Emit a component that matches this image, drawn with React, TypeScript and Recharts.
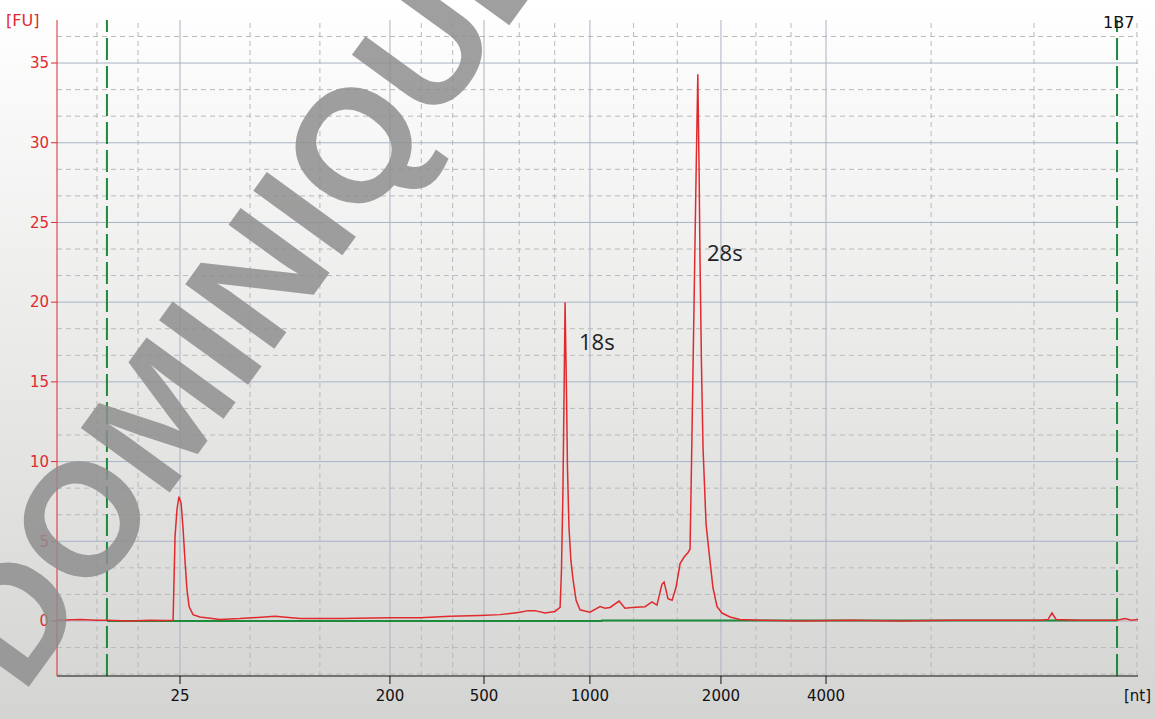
import { LineChart, Line, XAxis, YAxis, ReferenceLine } from 'recharts';

// migration time (s) and fluorescence (FU)
const traceTime = [
  19.0, 20.06, 20.85, 21.31, 22.38, 23.3, 23.99, 24.37, 24.46, 24.55, 24.64, 24.74, 24.83, 24.92,
  25.01, 25.11, 25.29, 25.61, 26.54, 27.46, 29.08, 30.24, 32.09, 34.4, 35.79, 37.18, 38.57, 39.49,
  40.42, 40.79, 41.11, 41.57, 42.03, 42.27, 42.33, 42.4, 42.45, 42.5, 42.57, 42.61, 42.68, 42.77,
  42.87, 43.01, 43.19, 43.65, 44.12, 44.35, 44.58, 45.0, 45.27, 45.6, 46.2, 46.52, 46.75, 46.98,
  47.08, 47.26, 47.45, 47.63, 47.82, 48.0, 48.19, 48.28, 48.35, 48.42, 48.49, 48.56, 48.64, 48.7,
  48.74, 48.81, 48.88, 49.02, 49.2, 49.34, 49.53, 49.76, 50.13, 50.59, 51.52, 53.37, 55.68, 57.99,
  60.3, 62.62, 64.47, 64.84, 65.02, 65.21, 66.32, 68.03, 68.4, 68.7, 69.0,
];
const traceFU = [
  0.05, 0.1, 0.05, 0.05, 0.0, 0.05, 0.03, 0.05, 5.3, 7.0, 7.8, 7.4, 5.8, 3.8,
  2.0, 0.9, 0.4, 0.25, 0.1, 0.15, 0.3, 0.15, 0.15, 0.2, 0.2, 0.3, 0.35, 0.4,
  0.55, 0.65, 0.65, 0.5, 0.6, 0.85, 3.0, 8.0, 13.9, 20.0, 13.9, 9.7, 5.9, 3.8,
  2.6, 1.3, 0.7, 0.55, 0.9, 0.8, 0.85, 1.25, 0.8, 0.85, 0.9, 1.2, 1.0, 2.3,
  2.45, 1.4, 1.3, 2.1, 3.6, 4.0, 4.3, 4.5, 10.0, 16.0, 22.0, 28.0, 34.3, 28.1,
  22.8, 16.0, 10.9, 6.1, 3.8, 2.1, 0.9, 0.5, 0.25, 0.1, 0.05, 0.0, 0.05, 0.0,
  0.05, 0.05, 0.05, 0.1, 0.5, 0.1, 0.05, 0.05, 0.15, 0.05, 0.1,
];

const baselineTime = [21.31, 44.19, 44.2, 68.03];
const baselineFU = [0, 0, 0.03, 0.03];

// x axis: ladder sizes at their migration times
const tickTimes = [24.69, 34.4, 38.75, 43.65, 49.71, 54.57];
const tickLabels = ['25', '200', '500', '1000', '2000', '4000'];
const minorTimes = [
  20.85, 22.75, 27.93, 31.16, 35.85, 37.3, 40.38, 42.02, 45.67, 47.69, 51.33, 52.95, 59.43, 64.19, 68.95,
];
const markerTimes = [21.31, 68.03];

const yTicks = [0, 5, 10, 15, 20, 25, 30, 35];
const yMinor = [-3.333, -1.667, 1.667, 3.333, 6.667, 8.333, 11.667, 13.333, 16.667, 18.333, 21.667, 23.333, 26.667, 28.333, 31.667, 33.333, 36.667];

const trace = traceTime.map((t, i) => ({ t, fu: traceFU[i] }));
const baseline = baselineTime.map((t, i) => ({ t, fu: baselineFU[i] }));

const RED = '#e02a2e';
const font = '"DejaVu Sans", Verdana, sans-serif';

export default function App() {
  return (
    <div
      style={{
        position: 'absolute',
        left: 0,
        top: 0,
        width: 1155,
        height: 719,
        overflow: 'hidden',
        background: 'linear-gradient(#ffffff, #d4d4d2)',
      }}
    >
      <LineChart width={1155} height={719} margin={{ top: 20, right: 17, bottom: 0, left: 0 }}>
        <XAxis
          type="number"
          dataKey="t"
          domain={[19, 69]}
          allowDataOverflow
          ticks={tickTimes}
          tickFormatter={(v: number) => tickLabels[tickTimes.indexOf(v)] ?? ''}
          height={43}
          stroke="#111"
          tickSize={8}
          tick={{ fill: '#111', fontSize: 15, fontFamily: font, dy: 4 }}
        />
        <YAxis
          type="number"
          domain={[-3.45, 37.7]}
          allowDataOverflow
          ticks={yTicks}
          width={57}
          stroke={RED}
          tickSize={6}
          tick={{ fill: RED, fontSize: 15, fontFamily: font }}
        />
        {yMinor.map((v) => (
          <ReferenceLine key={'hy' + v} y={v} stroke="#b9b9b9" strokeDasharray="5 4" />
        ))}
        {minorTimes.map((v) => (
          <ReferenceLine key={'vx' + v} x={v} stroke="#b9b9b9" strokeDasharray="5 4" />
        ))}
        {yTicks.map((v) => (
          <ReferenceLine key={'my' + v} y={v} stroke="#a9b3c6" />
        ))}
        {tickTimes.map((v) => (
          <ReferenceLine key={'mx' + v} x={v} stroke="#a9b3c6" />
        ))}
        {markerTimes.map((v) => (
          <ReferenceLine key={'g' + v} x={v} stroke="#1e8a3c" strokeWidth={2} strokeDasharray="22 6" />
        ))}
        <Line data={baseline} dataKey="fu" type="linear" stroke="#1e8a3c" strokeWidth={2} dot={false} isAnimationActive={false} />
        <Line data={trace} dataKey="fu" type="linear" stroke={RED} strokeWidth={1.5} dot={false} isAnimationActive={false} />
      </LineChart>
      <svg width={1155} height={719} style={{ position: 'absolute', left: 0, top: 0, pointerEvents: 'none' }}>
        <text x={6} y={26} fill={RED} fontSize={16} fontFamily={font}>[FU]</text>
        <text x={1124} y={701} fill="#111" fontSize={15} fontFamily={font}>[nt]</text>
        <text x={1103} y={28} fill="#111" fontSize={16} fontFamily={font}>1B7</text>
        <text x={579} y={350} fill="#222" fontSize={22} fontFamily='"Open Sans", sans-serif'>18s</text>
        <text x={707} y={261} fill="#222" fontSize={22} fontFamily='"Open Sans", sans-serif'>28s</text>
        <g transform="translate(248,288) rotate(-54)">
          <text
            x={0}
            y={57}
            textAnchor="middle"
            fill="#8e8e8e"
            fillOpacity={0.85}
            fontSize={160}
            fontWeight="bold"
            fontFamily='"Liberation Sans", Arial, sans-serif'
          >
            DOMINIQUE
          </text>
        </g>
      </svg>
    </div>
  );
}
